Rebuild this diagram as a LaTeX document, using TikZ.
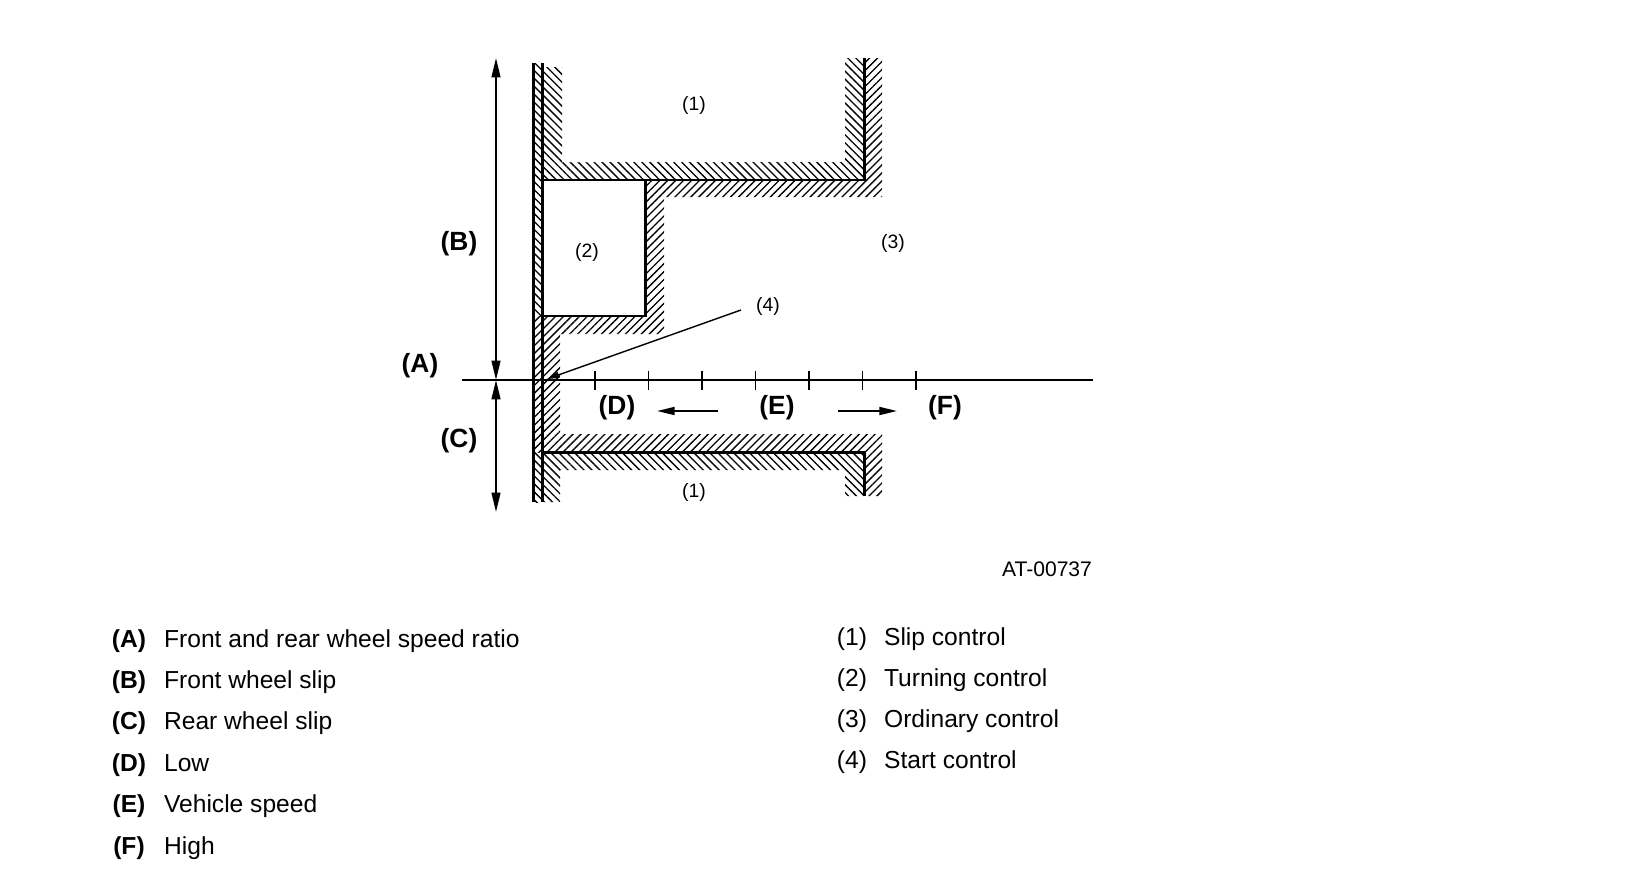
\documentclass[tikz,border=0pt]{standalone}
\usepackage{fontspec}
\setmainfont{Liberation Sans}
\usetikzlibrary{arrows.meta,patterns.meta}

\begin{document}
\begin{tikzpicture}[
    x=0.02cm, y=-0.02cm,
    wall/.style={line width=1.7pt},
    thinline/.style={line width=0.8pt},
    hatchR/.style={pattern={Lines[angle=45,distance=3.2pt,line width=0.75pt]}},
    hatchL/.style={pattern={Lines[angle=-45,distance=3.2pt,line width=0.75pt]}},
    dimarr/.style={{Triangle[length=11pt,width=5pt]}-{Triangle[length=11pt,width=5pt]}, line width=1.1pt},
    dirarr/.style={-{Triangle[length=10pt,width=4.5pt]}, line width=1.1pt},
    lbl/.style={font=\fontsize{15}{17}\selectfont\bfseries, inner sep=1pt},
    zone/.style={font=\fontsize{11}{13}\selectfont, inner sep=1pt},
    key/.style={font=\fontsize{14}{16}\selectfont\bfseries, anchor=base, inner sep=1pt},
    keyn/.style={font=\fontsize{14}{16}\selectfont, anchor=base, inner sep=1pt},
    keytxt/.style={font=\fontsize{14}{16}\selectfont, anchor=base west, inner sep=1pt}
  ]
    \useasboundingbox (0,0) rectangle (1648,872);

    % hatched zones
    \fill[hatchL] (533,63) rectangle (542,316);
    \fill[hatchR] (533,316) rectangle (542,452);
    \fill[hatchL] (533,452) rectangle (542,502);
    \fill[hatchL] (542,67) -- (562,67) -- (562,162) -- (845,162) -- (845,58)
      -- (864,58) -- (864,180) -- (542,180) -- cycle;
    \fill[hatchR] (864,58) -- (882,58) -- (882,197) -- (664,197) -- (664,334)
      -- (560,334) -- (560,434) -- (882,434) -- (882,496) -- (864,496)
      -- (864,452) -- (542,452) -- (542,316) -- (645,316) -- (645,180)
      -- (864,180) -- cycle;
    \fill[hatchL] (542,452) -- (864,452) -- (864,496) -- (845,496) -- (845,470)
      -- (560,470) -- (560,502) -- (542,502) -- cycle;

    % control boundaries
    \draw[wall] (533,63) -- (533,502);
    \draw[wall] (542,63) -- (542,502);
    \draw[wall] (542,180) -- (864,180) -- (864,58);
    \draw[wall] (542,316) -- (645,316) -- (645,180);
    \draw[wall] (542,452) -- (864,452) -- (864,496);

    % axis
    \coordinate (axL) at (462,380);
    \coordinate (axR) at (1093,380);
    \draw[line width=1.3pt] (axL) -- (axR);
    \foreach \t in {0,...,6}
      \draw[line width=1.1pt] (595+53.5*\t,371) -- (595+53.5*\t,390);

    % slip arrows
    \coordinate (bTop) at (496,58);
    \coordinate (axB) at (496,380);
    \coordinate (cBot) at (496,512);
    \draw[dimarr] (axB) -- (bTop);
    \draw[dimarr] (axB) -- (cBot);

    \node[lbl] (labA) at (420,366) {(A)};
    \node[lbl] (labB) at (459,244) {(B)};
    \node[lbl] (labC) at (459,441) {(C)};
    \node[lbl] (labD) at (617,408) {(D)};
    \node[lbl] (labE) at (777,408) {(E)};
    \node[lbl] (labF) at (945,408) {(F)};
    \coordinate (lowTail) at (718,411);
    \coordinate (lowHead) at (657,411);
    \coordinate (highTail) at (838,411);
    \coordinate (highHead) at (897,411);
    \draw[dirarr] (lowTail) -- (lowHead);
    \draw[dirarr] (highTail) -- (highHead);

    \node[zone] (z1) at (694,105) {(1)};
    \node[zone] (z2) at (587,252) {(2)};
    \node[zone] (z3) at (893,243) {(3)};
    \node[zone] (z4) at (768,306) {(4)};
    \node[zone] (z1b) at (694,492) {(1)};
    \coordinate (startTail) at (741,310);
    \coordinate (startHead) at (547,379);
    \draw[thinline, -{Triangle[length=7pt,width=3.5pt]}] (startTail) -- (startHead);

    \node[font=\fontsize{12}{14}\selectfont] (code) at (1047,569) {AT-00737};

    % legend
    \foreach \k/\txt [count=\i] in {A/Front and rear wheel speed ratio, B/Front wheel slip,
        C/Rear wheel slip, D/Low, E/Vehicle speed, F/High} {
      \node[key] (key\k) at (129,647+41.4*\i-41.4) {(\k)};
      \node[keytxt] (txt\k) at (162,647+41.4*\i-41.4) {\txt};
    }
    \foreach \n/\txt in {1/Slip control, 2/Turning control, 3/Ordinary control, 4/Start control} {
      \node[keyn] (keyn\n) at (852,645+41.3*\n-41.3) {(\n)};
      \node[keytxt] (txtn\n) at (882,645+41.3*\n-41.3) {\txt};
    }
  \end{tikzpicture}
\end{document}
